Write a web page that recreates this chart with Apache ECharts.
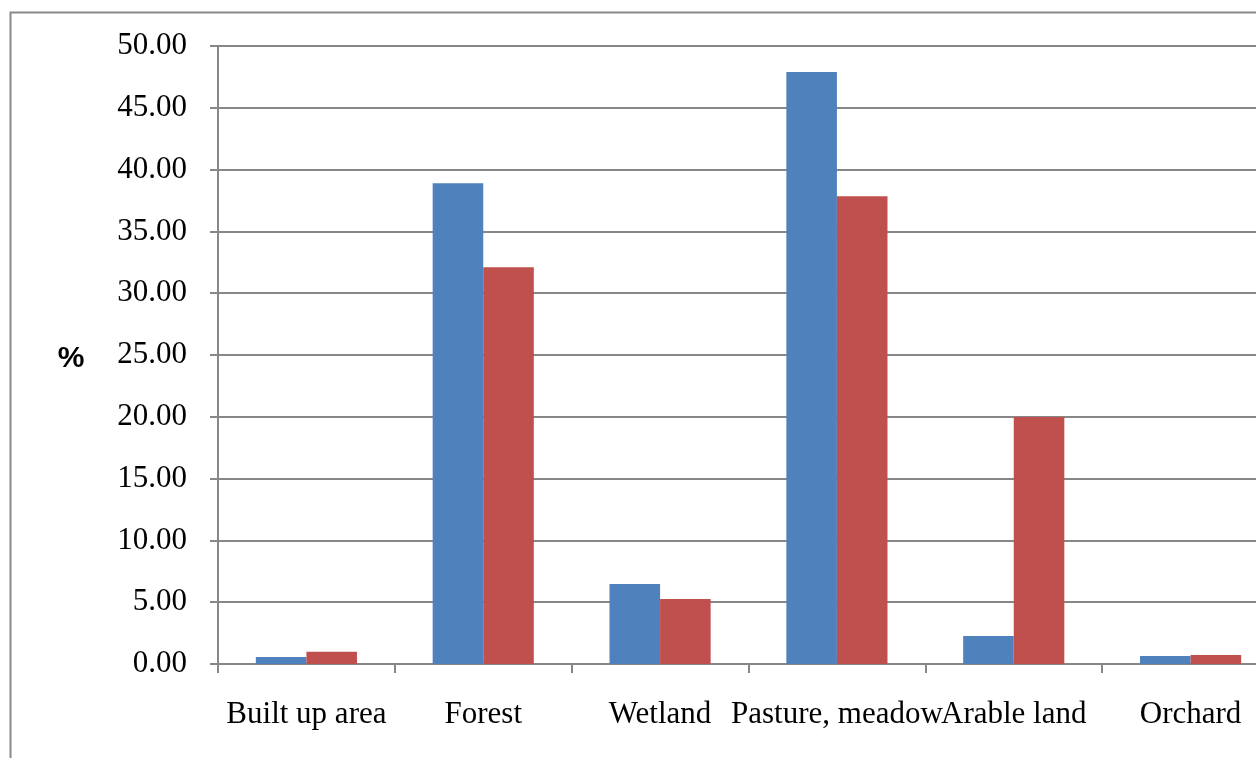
<!DOCTYPE html>
<html>
<head>
<meta charset="utf-8">
<script src="https://cdn.jsdelivr.net/npm/echarts@6/dist/echarts.min.js"></script>
<style>
html,body{margin:0;padding:0;background:#fff;}
#chart{width:1256px;height:758px;}
</style>
</head>
<body>
<div id="chart"></div>
<script>
var categories = ['Built up area', 'Forest', 'Wetland', 'Pasture, meadow', 'Arable land', 'Orchard'];
var seriesA = [0.57, 38.9, 6.47, 47.9, 2.27, 0.65];
var seriesB = [1.0, 32.1, 5.26, 37.85, 19.98, 0.73];
var yTicks = { min: 0, max: 50, interval: 5 };
var yAxisTitle = '%';

var chart = echarts.init(document.getElementById('chart'), null, { renderer: 'canvas' });
var axisColor = '#878787';
chart.setOption({
  animation: false,
  backgroundColor: '#ffffff',
  graphic: [{
    type: 'rect',
    left: 8, top: 10,
    shape: { x: 0, y: 0, width: 1300, height: 800 },
    style: { fill: 'none', stroke: '#898989', lineWidth: 2 },
    silent: true, z: 0
  }, {
    type: 'text',
    x: 71, y: 359,
    style: {
      text: yAxisTitle, align: 'center', verticalAlign: 'middle',
      font: 'bold 30px "Liberation Sans", Arial, sans-serif', fill: '#000'
    },
    silent: true
  }],
  grid: { left: 218, top: 46, height: 618, width: 1061, containLabel: false, outerBoundsMode: 'none' },
  xAxis: {
    type: 'category',
    data: categories,
    boundaryGap: true,
    axisLine: { show: true, lineStyle: { color: axisColor, width: 2 } },
    axisTick: { show: true, length: 9, alignWithLabel: false, lineStyle: { color: axisColor, width: 2 } },
    axisLabel: {
      interval: 0, hideOverlap: false, margin: 35,
      fontFamily: '"Liberation Serif", "Times New Roman", serif',
      fontSize: 31, color: '#000'
    }
  },
  yAxis: {
    type: 'value',
    min: yTicks.min, max: yTicks.max, interval: yTicks.interval,
    axisLine: { show: true, lineStyle: { color: axisColor, width: 2 } },
    axisTick: { show: true, inside: false, length: 8, lineStyle: { color: axisColor, width: 2 } },
    axisLabel: {
      margin: 31,
      formatter: function (v) { return v.toFixed(2); },
      fontFamily: '"Liberation Serif", "Times New Roman", serif',
      fontSize: 31, color: '#000'
    },
    splitLine: { show: true, lineStyle: { color: axisColor, width: 2 } }
  },
  series: [
    { name: 'Series 1', type: 'bar', data: seriesA, barWidth: '28.6%', barGap: '0%', itemStyle: { color: '#4F81BD' } },
    { name: 'Series 2', type: 'bar', data: seriesB, barWidth: '28.6%', barGap: '0%', itemStyle: { color: '#C0504D' } }
  ]
});
</script>
</body>
</html>
